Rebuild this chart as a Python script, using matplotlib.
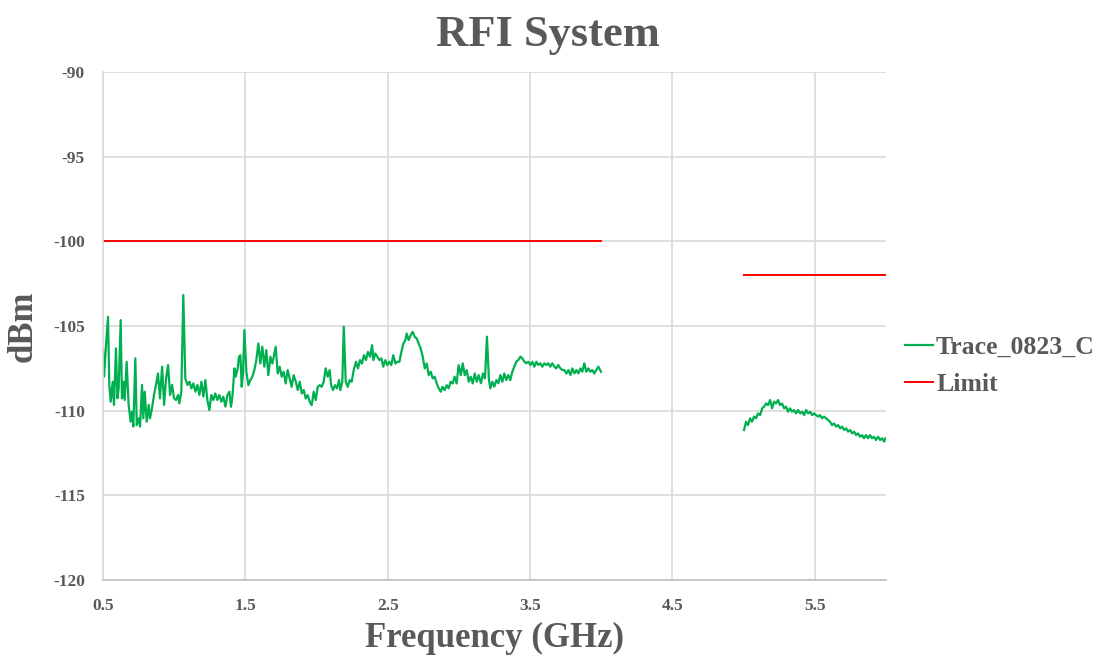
import numpy as np
import matplotlib
matplotlib.use("Agg")
import matplotlib.pyplot as plt

# measured trace, lower band (GHz / dBm)
freq_low = [
    0.500, 0.507, 0.521, 0.535, 0.544, 0.554, 0.568, 0.577, 0.591, 0.601,
    0.610, 0.624, 0.633, 0.643, 0.652, 0.666, 0.680, 0.694, 0.704, 0.713,
    0.727, 0.737, 0.751, 0.760, 0.774, 0.783, 0.793, 0.807, 0.821, 0.830,
    0.844, 0.858, 0.872, 0.886, 0.900, 0.915, 0.929, 0.943, 0.957, 0.971,
    0.985, 0.999, 1.013, 1.027, 1.036, 1.050, 1.064, 1.078, 1.093, 1.107,
    1.121, 1.135, 1.149, 1.163, 1.177, 1.191, 1.205, 1.219, 1.233, 1.247,
    1.261, 1.275, 1.289, 1.303, 1.317, 1.331, 1.345, 1.360, 1.374, 1.388,
    1.399, 1.409, 1.423, 1.432, 1.446, 1.455, 1.465, 1.474, 1.483, 1.493,
    1.507, 1.521, 1.535, 1.549, 1.563, 1.577, 1.591, 1.605, 1.619, 1.633,
    1.647, 1.661, 1.676, 1.690, 1.704, 1.713, 1.727, 1.741, 1.755, 1.769,
    1.783, 1.797, 1.811, 1.825, 1.839, 1.854, 1.868, 1.882, 1.896, 1.910,
    1.924, 1.938, 1.952, 1.966, 1.980, 1.994, 2.008, 2.022, 2.036, 2.050,
    2.064, 2.078, 2.092, 2.102, 2.116, 2.130, 2.144, 2.158, 2.167, 2.181,
    2.191, 2.205, 2.219, 2.233, 2.247, 2.261, 2.277, 2.291, 2.305, 2.319,
    2.333, 2.347, 2.361, 2.376, 2.390, 2.399, 2.413, 2.427, 2.441, 2.455,
    2.469, 2.483, 2.497, 2.511, 2.525, 2.539, 2.554, 2.568, 2.582, 2.596,
    2.610, 2.624, 2.633, 2.647, 2.661, 2.675, 2.689, 2.703, 2.717, 2.731,
    2.746, 2.760, 2.774, 2.788, 2.802, 2.816, 2.830, 2.844, 2.858, 2.872,
    2.886, 2.900, 2.914, 2.928, 2.942, 2.956, 2.970, 2.984, 2.998, 3.013,
    3.027, 3.041, 3.055, 3.069, 3.083, 3.097, 3.111, 3.125, 3.139, 3.155,
    3.169, 3.183, 3.197, 3.211, 3.221, 3.235, 3.249, 3.263, 3.277, 3.291,
    3.305, 3.319, 3.333, 3.347, 3.361, 3.375, 3.389, 3.403, 3.417, 3.432,
    3.446, 3.460, 3.474, 3.488, 3.502, 3.516, 3.530, 3.544, 3.558, 3.572,
    3.586, 3.600, 3.614, 3.628, 3.642, 3.656, 3.670, 3.684, 3.698, 3.713,
    3.727, 3.741, 3.755, 3.769, 3.783, 3.797, 3.811, 3.825, 3.839, 3.853,
    3.867, 3.881, 3.895, 3.909, 3.923, 3.937, 3.951, 3.965, 3.980, 3.998,
]
dbm_low = [
    -106.42, -107.99, -106.12, -104.45, -108.48, -109.47, -108.29, -109.66, -106.32, -109.27,
    -108.68, -104.65, -109.27, -108.29, -109.37, -107.11, -109.66, -110.65, -110.06, -110.94,
    -106.91, -110.85, -110.45, -110.94, -108.48, -110.45, -108.88, -110.65, -109.66, -110.45,
    -109.86, -109.07, -108.48, -107.80, -109.27, -107.40, -109.66, -108.09, -107.30, -109.07,
    -108.48, -109.27, -109.37, -109.07, -109.57, -108.88, -103.17, -108.09, -108.48, -108.29,
    -108.68, -108.39, -108.88, -108.48, -109.07, -108.29, -109.17, -108.19, -109.37, -109.96,
    -109.07, -109.37, -108.98, -109.37, -109.07, -109.47, -109.17, -109.76, -109.07, -108.88,
    -109.77, -109.18, -107.50, -107.99, -107.50, -106.82, -106.72, -108.59, -107.80, -105.24,
    -107.70, -108.49, -108.19, -107.99, -107.60, -107.01, -106.03, -107.21, -106.22, -107.40,
    -106.42, -107.90, -106.82, -107.21, -106.62, -106.22, -107.80, -107.40, -107.99, -107.70,
    -108.39, -107.60, -108.09, -108.59, -107.90, -108.29, -108.78, -108.29, -108.98, -108.78,
    -109.28, -109.08, -109.47, -109.67, -108.88, -109.37, -108.59, -108.49, -108.59, -108.29,
    -107.50, -107.99, -107.60, -108.49, -108.78, -108.49, -108.68, -108.19, -108.78, -108.29,
    -105.04, -108.29, -108.59, -108.19, -108.29, -107.60, -107.11, -107.50, -107.01, -107.21,
    -106.72, -107.01, -106.52, -106.82, -106.13, -107.01, -106.62, -106.82, -107.01, -106.91,
    -107.40, -107.01, -107.31, -107.11, -107.31, -106.72, -107.21, -107.11, -107.11, -106.52,
    -106.03, -105.83, -105.44, -105.83, -105.54, -105.34, -105.63, -105.73, -106.03, -106.32,
    -106.82, -107.50, -107.21, -107.90, -107.70, -108.09, -107.99, -108.39, -108.68, -108.88,
    -108.59, -108.78, -108.49, -108.68, -108.29, -108.39, -107.99, -108.39, -107.31, -107.90,
    -107.21, -107.90, -107.60, -108.29, -107.99, -108.39, -107.80, -108.29, -107.90, -108.38,
    -107.80, -108.09, -105.63, -108.19, -108.68, -108.29, -108.58, -108.19, -108.38, -107.89,
    -108.29, -107.80, -108.19, -107.89, -108.19, -107.70, -107.40, -107.11, -107.01, -106.81,
    -106.91, -107.11, -107.20, -107.11, -107.30, -107.11, -107.40, -107.11, -107.30, -107.20,
    -107.40, -107.20, -107.30, -107.20, -107.40, -107.20, -107.40, -107.50, -107.30, -107.50,
    -107.60, -107.60, -107.80, -107.60, -107.89, -107.50, -107.80, -107.60, -107.80, -107.50,
    -107.70, -107.20, -107.70, -107.50, -107.70, -107.60, -107.80, -107.60, -107.40, -107.70,
]

# measured trace, upper band
freq_high = [
    5.003, 5.017, 5.031, 5.045, 5.059, 5.073, 5.087, 5.101, 5.116, 5.130,
    5.144, 5.158, 5.172, 5.186, 5.200, 5.214, 5.228, 5.242, 5.256, 5.270,
    5.284, 5.298, 5.312, 5.326, 5.340, 5.354, 5.368, 5.382, 5.397, 5.411,
    5.425, 5.439, 5.453, 5.467, 5.481, 5.495, 5.509, 5.523, 5.537, 5.551,
    5.565, 5.579, 5.593, 5.607, 5.621, 5.635, 5.649, 5.664, 5.678, 5.692,
    5.706, 5.720, 5.734, 5.748, 5.762, 5.776, 5.790, 5.804, 5.818, 5.832,
    5.846, 5.860, 5.874, 5.888, 5.902, 5.916, 5.930, 5.945, 5.959, 5.973,
    5.987, 5.996,
]
dbm_high = [
    -111.14, -110.65, -110.85, -110.45, -110.65, -110.35, -110.45, -110.16, -110.26, -109.86,
    -109.76, -109.57, -109.67, -109.37, -109.86, -109.47, -109.57, -109.37, -109.67, -109.57,
    -109.86, -109.76, -110.06, -109.86, -110.06, -109.96, -110.16, -109.96, -110.16, -110.06,
    -110.26, -109.96, -110.16, -110.06, -110.26, -110.16, -110.26, -110.35, -110.26, -110.45,
    -110.35, -110.45, -110.55, -110.65, -110.85, -110.75, -110.94, -110.85, -111.04, -110.94,
    -111.14, -111.04, -111.24, -111.14, -111.34, -111.24, -111.44, -111.34, -111.54, -111.44,
    -111.63, -111.44, -111.63, -111.44, -111.63, -111.54, -111.73, -111.54, -111.73, -111.63,
    -111.83, -111.63,
]

# limit mask: two segments
limit_freq = [0.5, 4.0, np.nan, 5.0, 6.0]
limit_dbm = [-100, -100, np.nan, -102, -102]

x_ticks = [0.5, 1.5, 2.5, 3.5, 4.5, 5.5]
y_ticks = [-120, -115, -110, -105, -100, -95, -90]

plt.rcParams['font.family'] = ['Liberation Serif', 'DejaVu Serif']
plt.rcParams['font.weight'] = 'bold'
plt.rcParams['axes.unicode_minus'] = False
text_color = '#595959'

fig = plt.figure(figsize=(11.15, 6.61), dpi=100)
ax = fig.add_axes([0.0924, 0.1225, 0.7022, 0.7685])

trace_f = np.concatenate([freq_low, [np.nan], freq_high])
trace_v = np.concatenate([dbm_low, [np.nan], dbm_high])
ax.plot(trace_f, trace_v, color='#00B050', lw=1.6, label='Trace_0823_C')
ax.plot(limit_freq, limit_dbm, color='#FF0000', lw=1.4, label='Limit')

ax.set_xlim(0.5, 6.0)
ax.set_ylim(-120, -90)
ax.set_xticks(x_ticks)
ax.set_xticklabels([str(t) for t in x_ticks])
ax.set_yticks(y_ticks)
ax.grid(True, color='#D9D9D9', lw=1.2)
ax.set_axisbelow(True)
for s in ['top', 'right']:
    ax.spines[s].set_visible(False)
ax.spines['left'].set_color('#D9D9D9')
ax.spines['left'].set_linewidth(1.2)
ax.spines['bottom'].set_color('#BFBFBF')
ax.spines['bottom'].set_linewidth(1.2)
ax.tick_params(length=0, pad=13, labelsize=12.5, labelcolor=text_color)

ax.set_xlabel('Frequency (GHz)', fontsize=25, fontweight='bold', color=text_color, labelpad=6)
ax.set_ylabel('dBm', fontsize=25, fontweight='bold', color=text_color, labelpad=10)
fig.text(0.4915, 0.947, 'RFI System', ha='center', va='center',
         fontsize=32, fontweight='bold', color=text_color)

leg = ax.legend(loc='center left', bbox_to_anchor=(0.995, 0.422), frameon=False,
                fontsize=18.5, handlelength=1.1, handletextpad=0.1,
                labelspacing=0.55)
for t in leg.get_texts():
    t.set_color(text_color)

fig.savefig('out.png', dpi=100)
